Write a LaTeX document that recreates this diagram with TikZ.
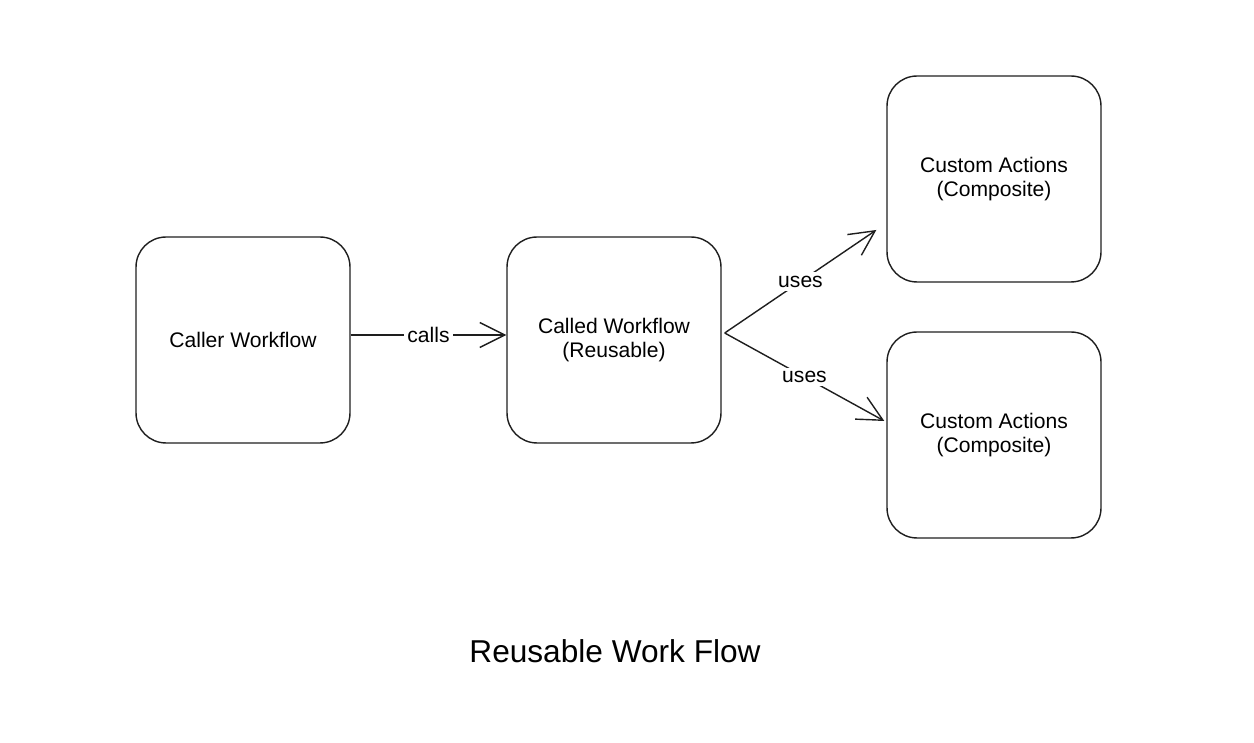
\documentclass[tikz,border=0pt]{standalone}
\usepackage{fontspec}
\setmainfont{Liberation Sans}
\usetikzlibrary{arrows.meta}

\begin{document}
\begin{tikzpicture}[
    x=0.02cm,y=0.02cm,
	block/.style={draw=ink, line width=0.8pt, rounded corners=0.6cm, minimum width=4.28cm, minimum height=4.12cm, align=center, font=\fontsize{12}{14}\selectfont},
	label/.style={midway, font=\fontsize{12}{14}\selectfont, fill=white, inner sep=2pt},
	link/.style={draw=ink, line width=0.8pt, -{Straight Barb[length=5mm,width=5mm]}}
]
\definecolor{ink}{HTML}{1E1E1E}
\useasboundingbox (0,0) rectangle (1254,743);

\node[block] (caller) at (243,403) {Caller Workflow};
\node[block] (called) at (614,403) {Called Workflow\\(Reusable)};
\node[block] (top) at (994,564) {Custom Actions\\(Composite)};
\node[block] (bot) at (994,308) {Custom Actions\\(Composite)};

\draw[link] ([yshift=0.1cm]caller.east) -- ([yshift=0.1cm]called.west) node [label] {calls};

\coordinate (fork) at ([xshift=0.06cm,yshift=0.14cm]called.east);
\coordinate (topend) at ([xshift=-0.2cm,yshift=-1.02cm]top.west);
\coordinate (botend) at ([xshift=-0.04cm,yshift=0.28cm]bot.west);
\draw[link] (fork) -- (topend) node [label] {uses};
\draw[link] (fork) -- (botend) node [label] {uses};

\node[font=\fontsize{18}{22}\selectfont] (title) at (615,92) {Reusable Work Flow};
\end{tikzpicture}
\end{document}
